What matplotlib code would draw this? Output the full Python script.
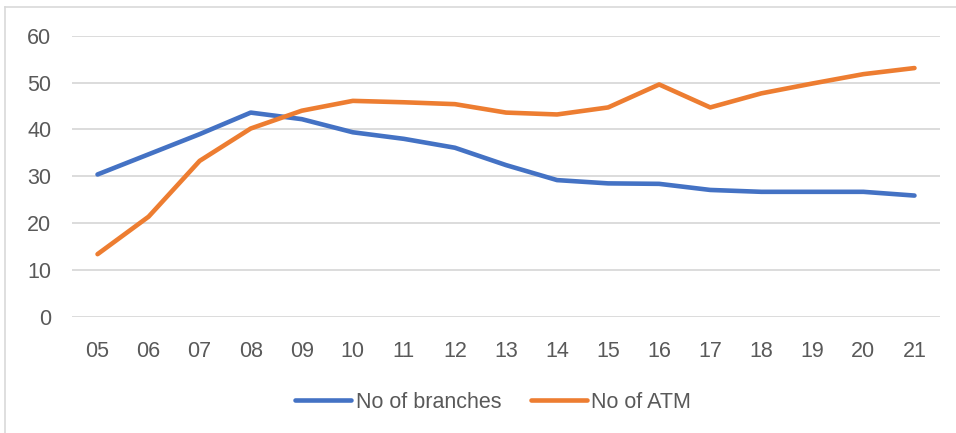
import matplotlib
matplotlib.use('Agg')
import matplotlib.pyplot as plt
from matplotlib.lines import Line2D

years = ['05', '06', '07', '08', '09', '10', '11', '12', '13',
         '14', '15', '16', '17', '18', '19', '20', '21']
branches = [30.4, 34.7, 39.0, 43.6, 42.2, 39.4, 38.0, 36.1, 32.4,
            29.2, 28.5, 28.4, 27.1, 26.7, 26.7, 26.7, 25.9]
atms = [13.4, 21.4, 33.3, 40.2, 44.0, 46.1, 45.8, 45.4, 43.6,
        43.2, 44.7, 49.6, 44.7, 47.7, 49.8, 51.8, 53.1]

BLUE = '#4472C4'
ORANGE = '#ED7D31'
GRID = '#d9d9d9'
TEXT = '#595959'

plt.rcParams['font.family'] = ['Liberation Sans', 'DejaVu Sans']

W, H = 956, 433
fig = plt.figure(figsize=(W / 100, H / 100), dpi=100)
ax = fig.add_axes([72 / W, (H - 317) / H, (940 - 72) / W, (317 - 35.7) / H])

x = list(range(len(years)))
ax.plot(x, branches, color=BLUE, lw=3.3, solid_capstyle='round',
        solid_joinstyle='round', label='No of branches', zorder=3)
ax.plot(x, atms, color=ORANGE, lw=3.3, solid_capstyle='round',
        solid_joinstyle='round', label='No of ATM', zorder=3)

ax.set_xlim(-0.5, len(years) - 0.5)
ax.set_ylim(0, 60)
ax.set_yticks(range(0, 61, 10))
ax.set_xticks(x)
ax.set_xticklabels(years)
ax.yaxis.grid(True, color=GRID, lw=1.3)
ax.set_axisbelow(True)
for s in ax.spines.values():
    s.set_visible(False)
ax.tick_params(axis='both', length=0, labelsize=15.5, labelcolor=TEXT)
ax.tick_params(axis='y', pad=15)
ax.tick_params(axis='x', pad=17)

fig.legend(loc='center', bbox_to_anchor=(0.516, (H - 402) / H), ncol=2,
           frameon=False, fontsize=15.5, labelcolor=TEXT, handlelength=2.6,
           handletextpad=0.2, columnspacing=1.4)

# chart area border (top and left edges visible)
fig.add_artist(Line2D([5 / W, 5 / W], [0, 1 - 7 / H], color=GRID, lw=1.2,
                      transform=fig.transFigure))
fig.add_artist(Line2D([5 / W, 1], [1 - 7 / H, 1 - 7 / H], color=GRID, lw=1.2,
                      transform=fig.transFigure))

fig.savefig('out.png', dpi=100, facecolor='white')
